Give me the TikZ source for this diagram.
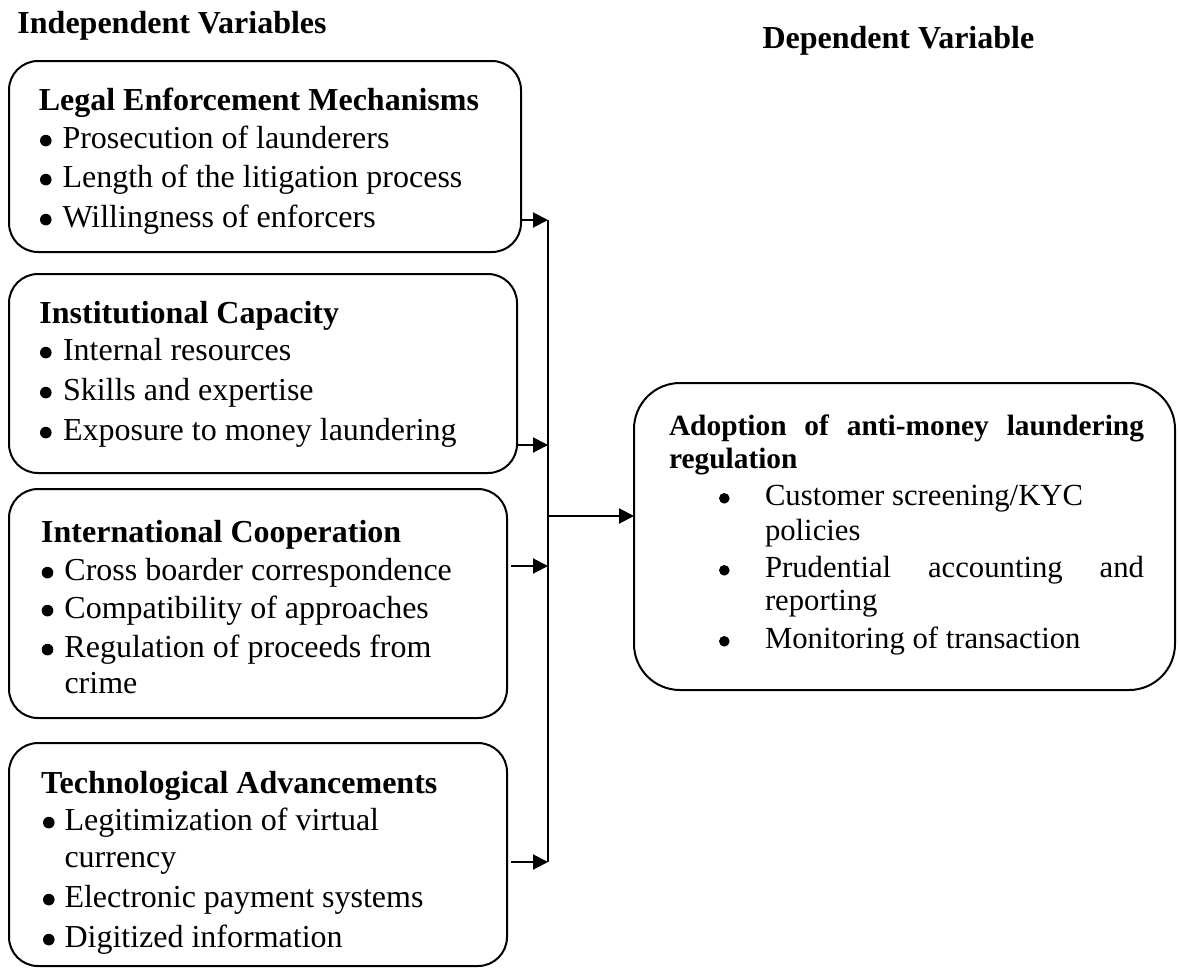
\documentclass[tikz,border=0pt]{standalone}
\usepackage{fontspec}
\setmainfont{Liberation Serif}
\usetikzlibrary{arrows.meta,calc}
\newcommand{\bdot}[2]{\tikz[baseline=0pt,x=1pt,y=1pt]\fill (#1,#2) circle[radius=#1];}
\newcommand{\bl}[1]{\makebox[#1][l]{\bdot{2.9}{3.7}}}
\newcommand{\rbl}[1]{\makebox[#1][l]{\bdot{2.65}{3.35}}}
\begin{document}
\begin{tikzpicture}[x=0.5pt,y=-0.5pt,
  box/.style={draw, line width=1pt, rounded corners=14.5pt, inner sep=0pt, outer sep=0pt},
  rbox/.style={draw, line width=1pt, rounded corners=23pt, inner sep=0pt, outer sep=0pt},
  txt/.style={anchor=base west, inner sep=0pt, outer sep=0pt, font=\fontsize{16}{19}\selectfont},
  hd/.style={txt, font=\fontsize{16}{19}\selectfont\bfseries},
  rtxt/.style={txt, font=\fontsize{15.35}{18}\selectfont},
  rhd/.style={txt, font=\fontsize{14.7}{18}\selectfont\bfseries},
  conn/.style={line width=1pt},
  arr/.style={line width=1pt, -{Triangle[length=7.5pt,width=7.5pt]}}]
\useasboundingbox (0,0) rectangle (1178,976);

% titles
\node[hd] (tind) at (17.5,33) {Independent Variables};
\node[hd] (tdep) at (762.5,48) {Dependent Variable};

% boxes
\node[box, minimum width=256pt, minimum height=95.5pt] (b1) at (265,156.5) {};
\node[box, minimum width=254pt, minimum height=99.5pt] (b2) at (263,373.5) {};
\node[box, minimum width=249pt, minimum height=114.5pt] (b3) at (258,603.5) {};
\node[box, minimum width=249pt, minimum height=111.5pt] (b4) at (258,854.5) {};
\node[rbox, minimum width=270.5pt, minimum height=153.5pt] (rb) at (904.5,536.5) {};

% box 1 text
\node[hd] (h1) at (38.8,110) {Legal Enforcement Mechanisms};
\node[txt] (h1a) at (40,148) {\bl{11.25pt}Prosecution of launderers};
\node[txt] (h1b) at (40,187) {\bl{11.25pt}Length of the litigation process};
\node[txt] (h1c) at (40,227) {\bl{11.25pt}Willingness of enforcers};

% box 2 text
\node[hd] (h2) at (39.5,323) {Institutional Capacity};
\node[txt] (h2a) at (40,360) {\bl{11.5pt}Internal resources};
\node[txt] (h2b) at (40,400) {\bl{11.5pt}Skills and expertise};
\node[txt] (h2c) at (40,440) {\bl{11.5pt}Exposure to money laundering};

% box 3 text
\node[hd] (h3) at (41.2,542) {International Cooperation};
\node[txt] (h3a) at (41.7,580) {\bl{11.4pt}Cross boarder correspondence};
\node[txt] (h3b) at (41.7,618) {\bl{11.4pt}Compatibility of approaches};
\node[txt] (h3c) at (41.7,657) {\bl{11.4pt}Regulation of proceeds from};
\node[txt] (h3d) at (64.5,693) {crime};

% box 4 text
\node[hd] (h4) at (41.2,793) {Technological Advancements};
\node[txt] (h4a) at (43,830) {\bl{10.75pt}Legitimization of virtual};
\node[txt] (h4b) at (64.5,867) {currency};
\node[txt] (h4c) at (43,907) {\bl{10.75pt}Electronic payment systems};
\node[txt] (h4d) at (43,947) {\bl{10.75pt}Digitized information};

% right box text
\node[rhd] (rh1) at (669,435) {\makebox[237.5pt][s]{Adoption of anti-money laundering}};
\node[rhd] (rh2) at (669,468) {regulation};
\node[rtxt] (ra) at (719,505) {\rbl{23pt}Customer screening/KYC};
\node[rtxt] (rb2) at (765,540) {policies};
\node[rtxt] (rc) at (719,577) {\rbl{23pt}\makebox[189.5pt][s]{Prudential accounting and}};
\node[rtxt] (rd) at (765,610) {reporting};
\node[rtxt] (re) at (719,648) {\rbl{23pt}Monitoring of transaction};

% connectors
\coordinate (bus1) at (548,220);
\coordinate (bus2) at (548,445);
\coordinate (bus3) at (548,566);
\coordinate (bus4) at (548,862);
\coordinate (busm) at (548,516);
\coordinate (s3) at ($(b3.east |- bus3)+(4,0)$);
\coordinate (s4) at ($(b4.east |- bus4)+(4,0)$);

\draw[conn] (bus1) -- (bus4);
\draw[arr] (b1.east |- bus1) -- (bus1);
\draw[arr] (b2.east |- bus2) -- (bus2);
\draw[arr] (s3) -- (bus3);
\draw[arr] (s4) -- (bus4);
\draw[arr] (busm) -- (rb.west |- busm);
\end{tikzpicture}
\end{document}
